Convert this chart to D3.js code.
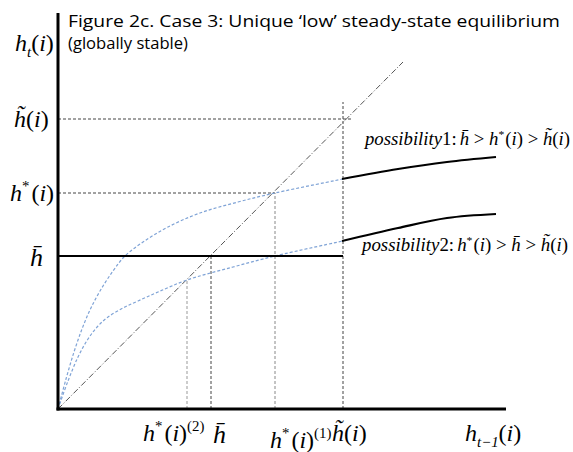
<!DOCTYPE html>
<html>
<head>
<meta charset="utf-8">
<script src="https://cdn.jsdelivr.net/npm/d3@7"></script>
<style>
  body { margin: 0; background: #fff; }
  svg { display: block; }
</style>
</head>
<body>
<script>
// values (units: distance from the origin)
const xMax = 448, yMax = 396;

// 45 degree line end
const diagEnd = [345, 347];

// levels on the vertical axis
const yLevels = { hTilde: 290, hStar: 216, hBar: 153 };
// marks on the horizontal axis
const xMarks = { hStar2: 129, hBar: 153, hStar1: 217, hTilde: 285 };

// dashed blue curves (x, y)
const upperCurve = [[0, 0], [8, 30], [16, 57], [24, 80], [32, 99], [42, 118], [55, 138], [67, 153], [85, 167], [110, 182], [142, 196], [180, 207], [217, 216], [285, 230]];
const lowerCurve = [[0, 0], [10, 28], [20, 52], [30, 70], [40, 83], [50, 92], [65, 101], [80, 108], [100, 117], [129, 129], [175, 142], [217, 153], [285, 168]];

// thick black continuations
const poss1 = [[284, 230], [340, 240], [389, 247], [438, 252]];
const poss2 = [[284, 168], [340, 181], [389, 191], [438, 195]];

const w = 573, h = 452;
const ox = 58, oy = 409;

const x = d3.scaleLinear().domain([0, xMax]).range([ox, ox + xMax]);
const y = d3.scaleLinear().domain([0, yMax]).range([oy, oy - yMax]);

const svg = d3.select('body').append('svg')
    .attr('width', w)
    .attr('height', h);

const serif = '"Liberation Serif", "Times New Roman", serif';
const dash = '3,2';

// title
const title = svg.append('text')
    .attr('font-family', '"Open Sans", sans-serif')
    .attr('font-size', 17)
    .attr('fill', '#000');
title.append('tspan').attr('x', 68).attr('y', 27)
    .attr('textLength', 492).attr('lengthAdjust', 'spacingAndGlyphs')
    .text('Figure 2c. Case 3: Unique \u2018low\u2019 steady-state equilibrium');
title.append('tspan').attr('x', 68).attr('y', 49)
    .attr('textLength', 120).attr('lengthAdjust', 'spacingAndGlyphs')
    .text('(globally stable)');

const line = d3.line().x(d => x(d[0])).y(d => y(d[1]));
const smooth = d3.line().x(d => x(d[0])).y(d => y(d[1])).curve(d3.curveCatmullRom);

// guide lines
svg.append('line')
    .attr('x1', x(0)).attr('y1', y(yLevels.hTilde))
    .attr('x2', x(xMarks.hTilde + 9)).attr('y2', y(yLevels.hTilde))
    .attr('stroke', '#444').attr('stroke-dasharray', dash);
svg.append('line')
    .attr('x1', x(0)).attr('y1', y(yLevels.hStar))
    .attr('x2', x(xMarks.hStar1)).attr('y2', y(yLevels.hStar))
    .attr('stroke', '#444').attr('stroke-dasharray', dash);

const verticals = [
    [xMarks.hStar2, xMarks.hStar2, '#999'],
    [xMarks.hBar, yLevels.hBar, '#444'],
    [xMarks.hStar1, yLevels.hStar, '#888'],
    [xMarks.hTilde, yLevels.hTilde + 17, '#444']
];
svg.selectAll('line.v')
    .data(verticals)
    .enter()
    .append('line')
    .attr('class', 'v')
    .attr('x1', d => x(d[0])).attr('x2', d => x(d[0]))
    .attr('y1', y(0)).attr('y2', d => y(d[1]))
    .attr('stroke', d => d[2])
    .attr('stroke-dasharray', dash);

// 45 degree line
svg.append('path')
    .attr('d', line([[0, 0], diagEnd]))
    .attr('fill', 'none')
    .attr('stroke', '#555')
    .attr('stroke-width', 1)
    .attr('stroke-dasharray', '6,2,1,2');

// blue curves
[upperCurve, lowerCurve].forEach(c => {
    svg.append('path')
        .attr('d', smooth(c))
        .attr('fill', 'none')
        .attr('stroke', '#7fa3d6')
        .attr('stroke-width', 1.2)
        .attr('stroke-dasharray', dash);
});

// h bar line
svg.append('line')
    .attr('x1', x(0)).attr('y1', y(yLevels.hBar))
    .attr('x2', x(xMarks.hTilde)).attr('y2', y(yLevels.hBar))
    .attr('stroke', '#000').attr('stroke-width', 2);

// black continuations
[poss1, poss2].forEach(c => {
    svg.append('path')
        .attr('d', smooth(c))
        .attr('fill', 'none')
        .attr('stroke', '#000')
        .attr('stroke-width', 2.2);
});

// axes
svg.append('line')
    .attr('x1', x(0)).attr('y1', y(0) + 1.5)
    .attr('x2', x(0)).attr('y2', y(yMax))
    .attr('stroke', '#000').attr('stroke-width', 3);
svg.append('line')
    .attr('x1', x(0) - 1.5).attr('y1', y(0))
    .attr('x2', x(xMax)).attr('y2', y(0))
    .attr('stroke', '#000').attr('stroke-width', 3);

// math text helper: parts are [text, kind, dx]; kind: 'i' italic, 'r' roman, 'sup', 'sub'
function mathText(px, py, parts, size, len) {
    const t = svg.append('text')
        .attr('x', px).attr('y', py)
        .attr('font-family', serif)
        .attr('font-size', size)
        .attr('fill', '#000');
    if (len) t.attr('textLength', len).attr('lengthAdjust', 'spacingAndGlyphs');
    let shift = 0;
    parts.forEach(p => {
        const s = t.append('tspan').text(p[0]);
        let target = 0;
        if (p[1] === 'sup') target = -size * 0.4;
        if (p[1] === 'sub') target = size * 0.25;
        if (target !== shift) { s.attr('dy', target - shift); shift = target; }
        if (p[1] === 'sup' || p[1] === 'sub') s.attr('font-size', size * 0.62);
        if (p[1] === 'i' || p[1] === 'sub') s.attr('font-style', 'italic');
        if (p[2]) s.attr('dx', p[2]);
    });
    return t;
}

const hBar = 'h\u0304', hTil = 'h\u0303';

// y axis labels
mathText(15, 51, [['h', 'i'], ['t', 'sub'], ['(', 'r'], ['i', 'i'], [')', 'r']], 24);
mathText(14, y(yLevels.hTilde) + 8, [[hTil, 'i'], ['(', 'r'], ['i', 'i'], [')', 'r']], 24);
mathText(10, y(yLevels.hStar) + 8, [['h', 'i'], ['*', 'sup'], ['(', 'r', 2], ['i', 'i'], [')', 'r']], 24);
mathText(30, y(yLevels.hBar) + 10, [[hBar, 'i']], 26);

// x axis labels
mathText(x(xMarks.hStar2) - 44, 441, [['h', 'i'], ['*', 'sup'], ['(', 'r', 2], ['i', 'i'], [')', 'r'], ['(2)', 'sup']], 24);
mathText(x(xMarks.hBar) + 2, 443, [[hBar, 'i']], 26);
mathText(x(xMarks.hStar1) - 5, 448, [['h', 'i'], ['*', 'sup'], ['(', 'r', 2], ['i', 'i'], [')', 'r'], ['(1)', 'sup']], 24);
mathText(x(xMarks.hTilde) - 11, 441, [[hTil, 'i'], ['(', 'r'], ['i', 'i'], [')', 'r']], 24);
mathText(465, 441, [['h', 'i'], ['t\u22121', 'sub'], ['(', 'r'], ['i', 'i'], [')', 'r']], 24);

// possibility labels
mathText(365, 145, [['possibility', 'i'], ['1:', 'r'], [hBar, 'i', 3], [' > ', 'r'], ['h', 'i'], ['*', 'sup'], ['(', 'r', 1], ['i', 'i'], [') > ', 'r'], [hTil, 'i'], ['(', 'r'], ['i', 'i'], [')', 'r']], 18, 205);
mathText(362, 251, [['possibility', 'i'], ['2:', 'r'], ['h', 'i', 3], ['*', 'sup'], ['(', 'r', 1], ['i', 'i'], [') > ', 'r'], [hBar, 'i'], [' > ', 'r'], [hTil, 'i'], ['(', 'r'], ['i', 'i'], [')', 'r']], 18, 206);
</script>
</body>
</html>
